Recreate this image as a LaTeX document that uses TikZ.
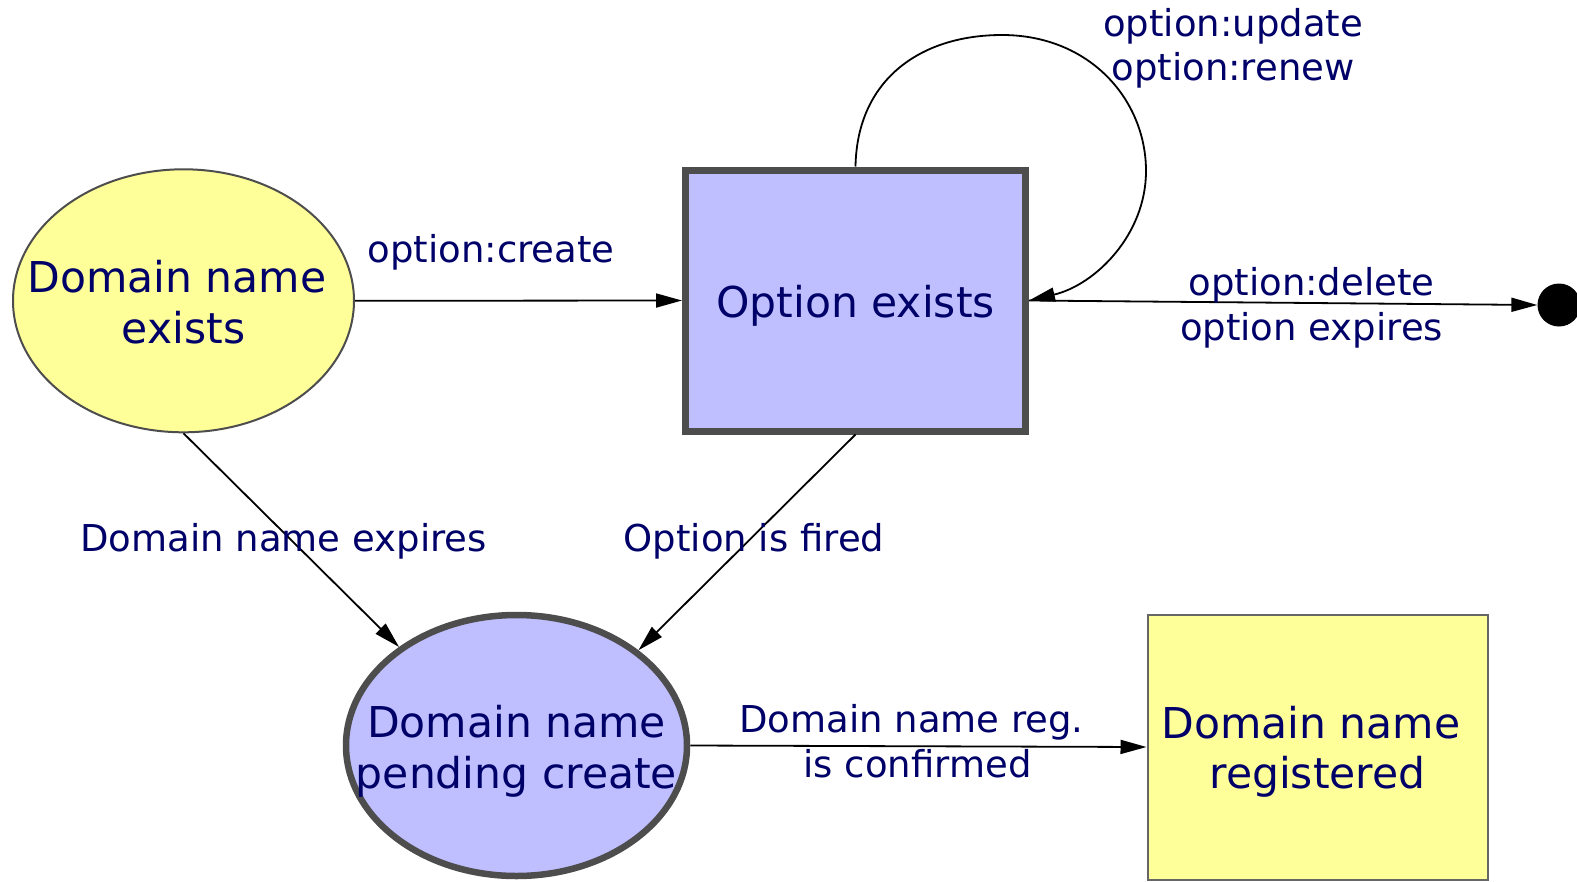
\documentclass[tikz,border=0pt]{standalone}
\usepackage{fontspec}
\setmainfont{DejaVu Sans}
\usetikzlibrary{shapes.geometric,arrows.meta}
\definecolor{txt}{RGB}{0,0,105}
\definecolor{yfill}{HTML}{FFFF99}
\definecolor{bfill}{HTML}{BFBFFF}
\definecolor{dborder}{HTML}{4D4D4D}
\definecolor{gborder}{HTML}{666666}
\begin{document}
\begin{tikzpicture}[x=1pt,y=-1pt,
  nodetext/.style={text=txt, font=\fontsize{42.5}{50.5}\selectfont, align=center, inner sep=0pt},
  thinell/.style={ellipse, draw=dborder, fill=yfill, line width=2pt, inner sep=0pt},
  thickell/.style={ellipse, draw=dborder, fill=bfill, line width=6.5pt, inner sep=0pt},
  thickbox/.style={rectangle, draw=dborder, fill=bfill, line width=7pt, inner sep=0pt},
  thinbox/.style={rectangle, draw=gborder, fill=yfill, line width=2pt, inner sep=0pt},
  conn/.style={-{Triangle[length=26pt,width=14pt]}, line width=1.8pt, black},
  lbl/.style={text=txt, font=\fontsize{37}{44.5}\selectfont, align=center, inner sep=0pt}
]
\useasboundingbox (0,0) rectangle (1577,881);

\node[thinell, minimum width=341pt, minimum height=263pt,
      label={[nodetext,yshift=-1.5pt]center:{Domain name\hspace*{13pt}\\exists}}] (e1) at (183.5,300.8) {};
\node[thickbox, minimum width=340pt, minimum height=261pt,
      label={[nodetext,yshift=-5pt]center:{Option exists}}] (opt) at (855.5,300.5) {};
\node[thickell, minimum width=341pt, minimum height=261pt,
      label={[nodetext,yshift=-6pt]center:{Domain name\\pending create}}] (e2) at (516.5,745.5) {};
\node[thinbox, minimum width=340pt, minimum height=265pt,
      label={[nodetext,yshift=-5pt]center:{Domain name\hspace*{13pt}\\registered}}] (reg) at (1317.5,747) {};
\node[circle, fill=black, minimum size=43pt, inner sep=0pt] (dot) at (1559,305) {};

% connectors
\draw[conn] (e1.east) -- (opt.west);
\draw[conn] (opt.north) .. controls (857,80) and (920,35) .. (1002,35)
            .. controls (1090,35) and (1146,100) .. (1146,171)
            .. controls (1146,235) and (1095,285) .. (opt.east);
\draw[conn] (opt.east) -- (dot.west);
\draw[conn] (e1.south) -- (e2.140);
\draw[conn] (opt.south) -- (e2.38);
\draw[conn] (e2.east) -- (reg.west);

% labels
\node[lbl] (lcreate) at (491,252.5) {option:create};
\node[lbl] (lupdate) at (1233,48.5) {option:update\\option:renew};
\node[lbl] (ldelete) at (1311.5,308) {option:delete\\option expires};
\node[lbl] (lexpire) at (283.6,541) {Domain name expires};
\node[lbl] (lfired) at (754,541) {Option is fired};
\node[lbl] (lconf) at (917.5,741) {Domain name reg.\hspace*{12pt}\\is confirmed};
\end{tikzpicture}
\end{document}
